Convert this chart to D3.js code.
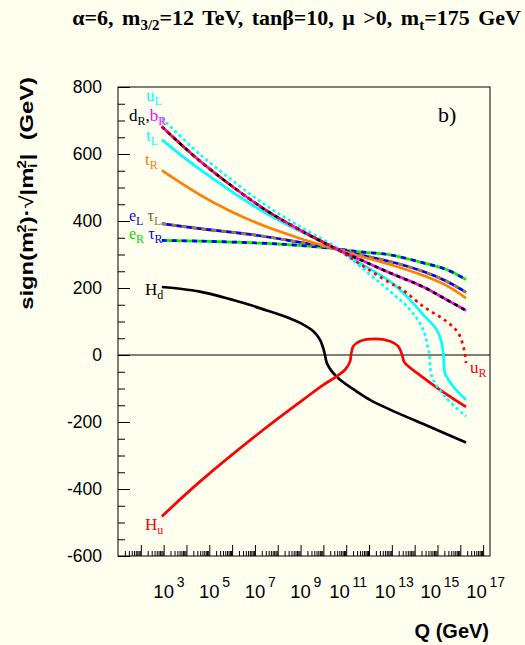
<!DOCTYPE html>
<html>
<head>
<meta charset="utf-8">
<script src="https://cdn.jsdelivr.net/npm/d3@7"></script>
<style>
body { margin: 0; background: #fffff0; }
svg { display: block; }
</style>
</head>
<body>
<svg id="chart"></svg>
<script>
// running masses, sign(m2)*sqrt|m2| vs log10(Q)
// each point: [log10 Q (GeV), value (GeV)]

const uL = [[2.92,707],[4.59,599],[7.31,455],[8.98,383],[10.64,318],[11.60,265],[12.92,190],
  [13.80,135],[14.38,75],[14.60,16],[14.65,0],[14.75,-64],[15.33,-124],[16.25,-183]]

const dR = [[2.92,682],[4.59,579],[7.31,440],[8.98,373],[10.64,314],[11.60,285],[12.92,245],
  [14.38,203],[15.40,165],[16.25,133]]

const uR = [[2.92,682],[4.59,579],[7.31,440],[8.98,373],[10.64,314],[11.60,272],[12.92,215],
  [13.36,200],[14.38,145],[15.40,100],[15.91,66],[16.13,26],[16.21,0],[16.25,-24]]

const tL = [[2.92,643],[4.59,554],[7.31,430],[8.98,369],[10.64,314],[11.60,274],[12.92,220],
  [13.65,175],[14.38,120],[14.97,75],[15.18,36],[15.26,0],[15.33,-54],[15.69,-94],[16.25,-134]]

const tR = [[2.92,551],[4.59,478],[5.91,430],[7.31,388],[8.98,348],[10.64,314],[11.60,295],
  [12.92,270],[14.38,237],[15.40,207],[16.25,170]]

const eL = [[2.92,392],[4.59,377],[7.22,356],[8.98,336],[10.64,316],[11.60,299],[12.92,279],
  [14.38,249],[15.40,220],[16.25,187]]

const eR = [[2.92,342],[4.59,340],[7.22,334],[8.98,327],[10.64,316],[11.60,308],[12.92,299],
  [14.38,275],[15.40,255],[16.25,225]]

const Hd = [[2.92,203],[3.80,197],[4.59,189],[5.30,178],[6.05,164],[6.80,149],[7.52,133],
  [8.10,120],[8.54,109],[8.98,96],[9.56,71],[9.85,46],[10.00,19],[10.07,0],[10.15,-24],
  [10.37,-49],[10.73,-74],[11.46,-109],[12.04,-134],[12.92,-163],[14.58,-212],[16.25,-261]]

const Hu = [[2.92,-482],[4.59,-378],[7.37,-223],[9.12,-133],[10.00,-89],[10.58,-64],[10.95,-44],
  [11.17,-19],[11.21,0],[11.31,26],[11.60,41],[12.26,48],[12.92,41],[13.28,26],[13.45,0],
  [13.55,-22],[14.30,-64],[15.11,-104],[16.25,-155]]

const yMajor = [-600,-400,-200,0,200,400,600,800]
const xLabelExp = [3,5,7,9,11,13,15,17]

const width = 525, height = 645
const frame = {left: 118, right: 490, top: 87, bottom: 556}

const svg = d3.select("#chart").attr("width", width).attr("height", height)
svg.append("rect").attr("width", width).attr("height", height).attr("fill", "#fffff0")

const x = d3.scaleLog().domain([10, 2e17]).range([frame.left, frame.right])
const y = d3.scaleLinear().domain([-600, 800]).range([frame.bottom, frame.top])

const line = d3.line()
  .x(d => x(Math.pow(10, d[0])))
  .y(d => y(d[1]))
  .curve(d3.curveCatmullRom.alpha(0.5))

const sans = "Liberation Sans, Arial, sans-serif"
const serif = "Liberation Serif, Times New Roman, serif"

// axes
const yMinor = d3.range(-600, 801, 50).filter(v => v % 200 != 0)
svg.append("g").attr("transform", `translate(${frame.left},0)`)
  .call(d3.axisLeft(y).tickValues(yMinor).tickSizeInner(-7).tickSizeOuter(0).tickFormat(""))
svg.append("g").attr("class", "yaxis").attr("transform", `translate(${frame.left},0)`)
  .call(d3.axisLeft(y).tickValues(yMajor).tickSizeInner(-12).tickSizeOuter(0).tickPadding(16)
    .tickFormat(d => String(d)))

const decades = d3.range(2, 18).map(e => Math.pow(10, e))
const xMinor = []
for (let e = 1; e <= 17; e++) for (let k = 2; k <= 9; k++) {
  const q = k * Math.pow(10, e)
  if (q < 2e17) xMinor.push(q)
}
svg.append("g").attr("transform", `translate(0,${frame.bottom})`)
  .call(d3.axisBottom(x).tickValues(xMinor).tickSizeInner(-5).tickSizeOuter(0).tickFormat(""))
svg.append("g").attr("transform", `translate(0,${frame.bottom})`)
  .call(d3.axisBottom(x).tickValues(decades).tickSizeInner(-11).tickSizeOuter(0).tickFormat(""))

svg.selectAll(".domain").remove()
svg.selectAll(".tick line").attr("stroke", "#000").attr("stroke-width", 1)
svg.selectAll(".yaxis text")
  .attr("font-family", sans).attr("font-size", 17.5).attr("fill", "#000")

// x labels 10^n
const xl = svg.append("g").attr("font-family", sans).attr("fill", "#000")
xLabelExp.forEach(e => {
  const cx = x(Math.pow(10, e)) - (String(e).length - 1) * 6.7
  xl.append("text").attr("x", cx).attr("y", 598).attr("text-anchor", "middle")
    .attr("font-size", 18.5).text("10")
  xl.append("text").attr("x", cx + 13).attr("y", 587).attr("font-size", 14).text(e)
})

// frame and zero line
svg.append("rect").attr("x", frame.left).attr("y", frame.top)
  .attr("width", frame.right - frame.left).attr("height", frame.bottom - frame.top)
  .attr("fill", "none").attr("stroke", "#000").attr("stroke-width", 1)
svg.append("line").attr("x1", frame.left).attr("x2", frame.right)
  .attr("y1", y(0)).attr("y2", y(0)).attr("stroke", "#000").attr("stroke-width", 1.2)

// curves
const lw = 2.7
function curve(data, color, dash) {
  svg.append("path").datum(data).attr("d", line)
    .attr("fill", "none").attr("stroke", color).attr("stroke-width", lw)
    .attr("stroke-dasharray", dash || null)
}
curve(Hd, "#000")
curve(Hu, "#ff0000")
curve(eR, "#00ee00")
curve(eR, "#0000ff", "5,5")
curve(eL, "#0000ff")
curve(eL, "#a07a40", "5,5")
curve(tR, "#ff7f00")
curve(tL, "#00ffff")
curve(uL, "#00ffff", "3,3")
curve(dR, "#ff00ff")
curve(dR, "#000", "4,4")
curve(uR, "#ff0000", "3,4")

// labels
function label(px, py, parts, fs) {
  const t = svg.append("text").attr("x", px).attr("y", py)
    .attr("font-family", serif).attr("font-size", fs || 17)
  parts.forEach(p => {
    const s = t.append("tspan").attr("fill", p[1]).text(p[0])
    if (p[2]) s.attr("font-size", 12).attr("dy", 4)
    else if (p[3]) s.attr("dy", -4)
  })
}
label(146, 101, [["u", "#00ffff"], ["L", "#00ffff", 1]])
label(129, 121, [["d", "#000"], ["R", "#000", 1], [",", "#000", 0, 1], ["b", "#ff00ff"], ["R", "#ff00ff", 1]])
label(146, 141, [["t", "#00ffff"], ["L", "#00ffff", 1]])
label(145, 165, [["t", "#ff7f00"], ["R", "#ff7f00", 1]])
label(129, 221, [["e", "#0000ff"], ["L", "#0000ff", 1], [" τ", "#7a5a2a", 0, 1], ["L", "#a07a40", 1]], 16)
label(129, 239, [["e", "#00dd00"], ["R", "#00dd00", 1], [" τ", "#0000ff", 0, 1], ["R", "#0000ff", 1]], 16)
label(145, 295, [["H", "#000"], ["d", "#000", 1]])
label(145, 530, [["H", "#ff0000"], ["u", "#ff0000", 1]])
label(470, 373, [["u", "#ff0000"], ["R", "#ff0000", 1]])

svg.append("text").attr("x", 438).attr("y", 122).attr("font-family", serif)
  .attr("font-size", 22).text("b)")

// title
const title = svg.append("text").attr("x", 521).attr("y", 25).attr("text-anchor", "end")
  .attr("font-family", serif).attr("font-weight", "bold").attr("font-size", 22)
  .attr("word-spacing", 3)
title.append("tspan").text("α=6, m")
title.append("tspan").attr("font-size", 15).attr("dy", 5).text("3/2")
title.append("tspan").attr("dy", -5).text("=12 TeV, tanβ=10, μ >0, m")
title.append("tspan").attr("font-size", 15).attr("dy", 5).text("t")
title.append("tspan").attr("dy", -5).text("=175 GeV")

// axis titles
svg.append("text").attr("x", 489).attr("y", 638).attr("text-anchor", "end")
  .attr("font-family", sans).attr("font-weight", "bold").attr("font-size", 20).text("Q (GeV)")

const yt = svg.append("text").attr("transform", "translate(33,77) rotate(-90) scale(1.25,1)")
  .attr("text-anchor", "end").attr("font-family", sans).attr("font-weight", "bold").attr("font-size", 19)
yt.append("tspan").text("sign(m")
yt.append("tspan").attr("font-size", 12).attr("dy", 4).text("i")
yt.append("tspan").attr("font-size", 12).attr("dx", -4).attr("dy", -11).text("2")
yt.append("tspan").attr("dy", 7).text(")·")
yt.append("tspan").attr("font-weight", "normal").text("√")
yt.append("tspan").text("|m")
yt.append("tspan").attr("font-size", 12).attr("dy", 4).text("i")
yt.append("tspan").attr("font-size", 12).attr("dx", -4).attr("dy", -11).text("2")
yt.append("tspan").attr("dy", 7).text("|\u00a0\u00a0(GeV)")
</script>
</body>
</html>
